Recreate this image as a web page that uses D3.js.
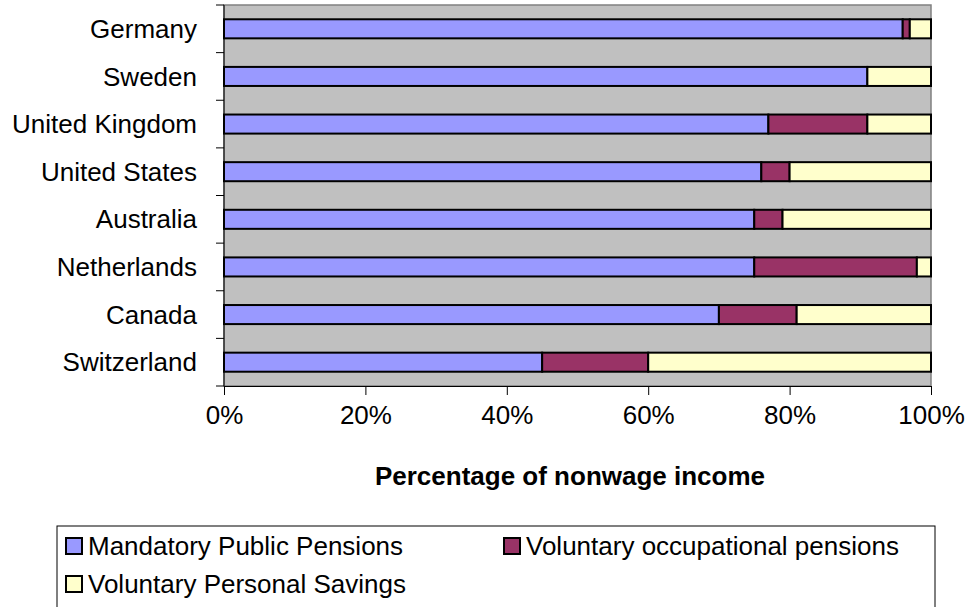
<!DOCTYPE html>
<html>
<head>
<meta charset="utf-8">
<script src="https://cdn.jsdelivr.net/npm/d3@7"></script>
<style>
  body { margin: 0; background: #fff; }
  svg { font-family: Arial, "Liberation Sans", sans-serif; }
</style>
</head>
<body>
<svg id="chart" width="966" height="607"></svg>
<script>
// countries top to bottom
const countries = ["Germany", "Sweden", "United Kingdom", "United States", "Australia", "Netherlands", "Canada", "Switzerland"];
const seriesNames = ["Mandatory Public Pensions", "Voluntary occupational pensions", "Voluntary Personal Savings"];
const mandatory = [96, 91, 77, 76, 75, 75, 70, 45];
const occupational = [1, 0, 14, 4, 4, 23, 11, 15];
const personal = [3, 9, 9, 20, 21, 2, 19, 40];
const xTicks = [0, 0.2, 0.4, 0.6, 0.8, 1];
const colors = ["#9999ff", "#993366", "#ffffcc"];

const size = { left: 224, right: 931, top: 5, bottom: 386 };
const fontSize = 26;
const svg = d3.select("#chart");

const rows = countries.map((c, i) => ({
  country: c,
  [seriesNames[0]]: mandatory[i],
  [seriesNames[1]]: occupational[i],
  [seriesNames[2]]: personal[i]
}));

const stack = d3.stack().keys(seriesNames).offset(d3.stackOffsetExpand);
const layers = stack(rows);

const x = d3.scaleLinear().domain([0, 1]).range([size.left, size.right]);
const y = d3.scaleBand().domain(countries).range([size.top, size.bottom]).paddingInner(0.6).paddingOuter(0.3);
const band = d3.scaleBand().domain(countries).range([size.top, size.bottom]);

// plot background
svg.append("rect")
  .attr("x", size.left).attr("y", size.top)
  .attr("width", size.right - size.left).attr("height", size.bottom - size.top)
  .attr("fill", "#c0c0c0")
  .attr("stroke", "#808080").attr("stroke-width", 1.5);

// bars
svg.append("g").selectAll("g")
  .data(layers)
  .enter().append("g")
  .attr("fill", (d, i) => colors[i])
  .selectAll("rect")
  .data(d => d.filter(s => s[1] - s[0] > 0))
  .enter().append("rect")
  .attr("x", d => x(d[0]))
  .attr("y", d => y(d.data.country))
  .attr("width", d => x(d[1]) - x(d[0]))
  .attr("height", y.bandwidth())
  .attr("stroke", "#000")
  .attr("stroke-width", 2);

// y axis: ticks at category boundaries
const yAxis = svg.append("g");
yAxis.append("line")
  .attr("x1", size.left).attr("x2", size.left)
  .attr("y1", size.top).attr("y2", size.bottom)
  .attr("stroke", "#000");
const bounds = countries.map(c => band(c)).concat([size.bottom]);
yAxis.selectAll("line.tick")
  .data(bounds)
  .enter().append("line")
  .attr("class", "tick")
  .attr("x1", size.left - 8).attr("x2", size.left)
  .attr("y1", d => d).attr("y2", d => d)
  .attr("stroke", "#000");
yAxis.selectAll("text")
  .data(countries)
  .enter().append("text")
  .attr("x", 197)
  .attr("y", d => band(d) + band.bandwidth() / 2)
  .attr("dy", "0.35em")
  .attr("text-anchor", "end")
  .attr("font-size", fontSize)
  .text(d => d);

// x axis
const xAxis = svg.append("g")
  .attr("transform", `translate(0,${size.bottom})`)
  .call(d3.axisBottom(x).tickValues(xTicks).tickFormat(d3.format(".0%")).tickSize(9).tickPadding(11));
xAxis.select(".domain").attr("stroke", "#000");
xAxis.selectAll("text").attr("font-size", fontSize).attr("font-family", "Arial, 'Liberation Sans', sans-serif").attr("fill", "#000");

svg.append("text")
  .attr("x", 570)
  .attr("y", 476)
  .attr("dy", "0.35em")
  .attr("text-anchor", "middle")
  .attr("font-size", fontSize)
  .attr("font-weight", "bold")
  .text("Percentage of nonwage income");

// legend
const legend = svg.append("g");
legend.append("rect")
  .attr("x", 57).attr("y", 526)
  .attr("width", 878).attr("height", 100)
  .attr("fill", "#fff")
  .attr("stroke", "#000").attr("stroke-width", 1);
const legendPos = [[66, 546], [504, 546], [66, 584]];
const items = legend.selectAll("g.item")
  .data(seriesNames)
  .enter().append("g")
  .attr("class", "item")
  .attr("transform", (d, i) => `translate(${legendPos[i][0]},${legendPos[i][1]})`);
items.append("rect")
  .attr("x", 0).attr("y", -8)
  .attr("width", 16).attr("height", 16)
  .attr("fill", (d, i) => colors[i])
  .attr("stroke", "#000").attr("stroke-width", 2);
items.append("text")
  .attr("x", 22)
  .attr("dy", "0.35em")
  .attr("font-size", fontSize)
  .text(d => d);
</script>
</body>
</html>
